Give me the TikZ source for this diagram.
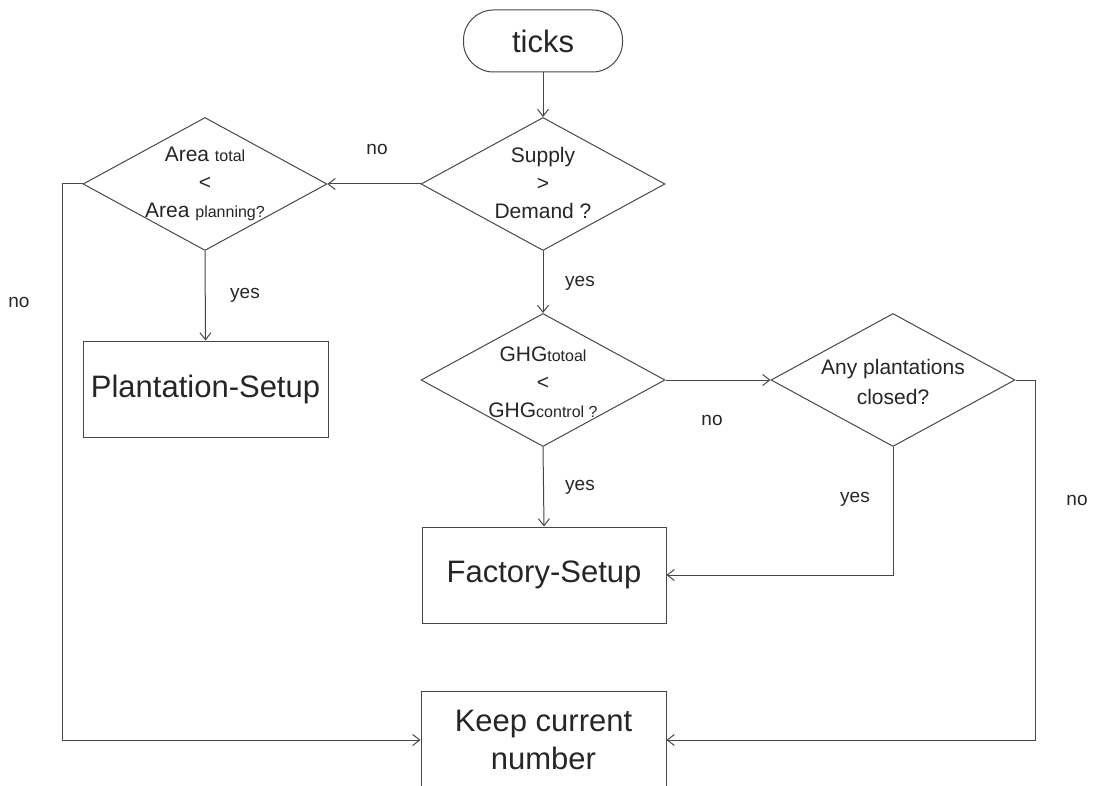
\documentclass[tikz,border=0pt]{standalone}
\usepackage{fontspec}
\setmainfont{Liberation Sans}
\usetikzlibrary{arrows.meta,shapes.geometric}
\newcommand\smalltxt[1]{{\fontsize{16}{16}\selectfont #1}}
\begin{document}
\begin{tikzpicture}[x=1pt,y=-1pt,
  line/.style={draw=black!72,line width=1pt},
  flow/.style={line,-{Straight Barb[length=7pt,width=11pt,line width=1pt]}},
  dia/.style={line,diamond,minimum width=244pt,minimum height=133pt,inner sep=0pt},
  box/.style={line,rectangle,minimum width=245pt,minimum height=96pt,inner sep=0pt,
    font=\fontsize{31}{38}\selectfont,align=center,text=black!85},
  dtext/.style={font=\fontsize{21}{28}\selectfont,align=center,inner sep=0pt,text=black!85},
  lab/.style={font=\fontsize{19}{22}\selectfont,inner sep=0pt,text=black!85},
]
\useasboundingbox (0,0) rectangle (1095,786);
\fill[white] (0,0) rectangle (1095,786);
\clip (0,0) rectangle (1095,786);

% start terminal
\node[line,rectangle,rounded corners=30pt,minimum width=159pt,minimum height=62pt,
  inner sep=0pt,font=\fontsize{31}{31}\selectfont,text=black!85] (ticks) at (543,41) {ticks};

% decisions
\node[dia] (sup) at (543,184) {};
\node[dtext] (supt) at (543,183) {Supply\\>\\Demand ?};

\node[dia] (area) at (205,184) {};
\node[dtext] (areat) at (205,184) {Area \smalltxt{total}\\<\\Area \smalltxt{planning?}};

\node[dia] (ghg) at (543,380) {};
\node[dtext] (ghgt) at (543,382) {GHG\smalltxt{totoal}\\<\\GHG\smalltxt{control ?}};

\node[dia] (any) at (893,380) {};
\node[dtext,font=\fontsize{21}{30}\selectfont] (anyt) at (893,382) {Any plantations\\closed?};

% process boxes
\node[box] (plant) at (205.5,389) {Plantation-Setup};
\node[box,minimum width=244pt] (fact) at (544,575) {Factory-Setup};
\node[box,minimum height=98pt] (keep) at (543.5,740) {Keep current\\number};

% corner points of the bent connectors
\coordinate (lft) at (62,184);
\coordinate (rgt) at (1035,380);
\coordinate (anyb) at (893,575);

% connectors
\draw[flow] (ticks.south) -- (sup.north);
\draw[flow] (sup.west) -- (area.east);
\draw[flow] (sup.south) -- (ghg.north);
\draw[flow] (area.south) -- (plant.north);
\draw[flow] (area.west) -- (lft) |- (keep.west);
\draw[flow] (ghg.east) -- (any.west);
\draw[flow] (ghg.south) -- (fact.north);
\draw[flow] (any.south) -- (anyb) -- (fact.east);
\draw[flow] (any.east) -- (rgt) |- (keep.east);

% branch labels
\node[lab] (l1) at (377,149) {no};
\node[lab] (l2) at (580,283) {yes};
\node[lab] (l3) at (245,295) {yes};
\node[lab] (l4) at (19,302) {no};
\node[lab] (l5) at (712,420) {no};
\node[lab] (l6) at (580,487) {yes};
\node[lab] (l7) at (855,499) {yes};
\node[lab] (l8) at (1077,500) {no};
\end{tikzpicture}
\end{document}
